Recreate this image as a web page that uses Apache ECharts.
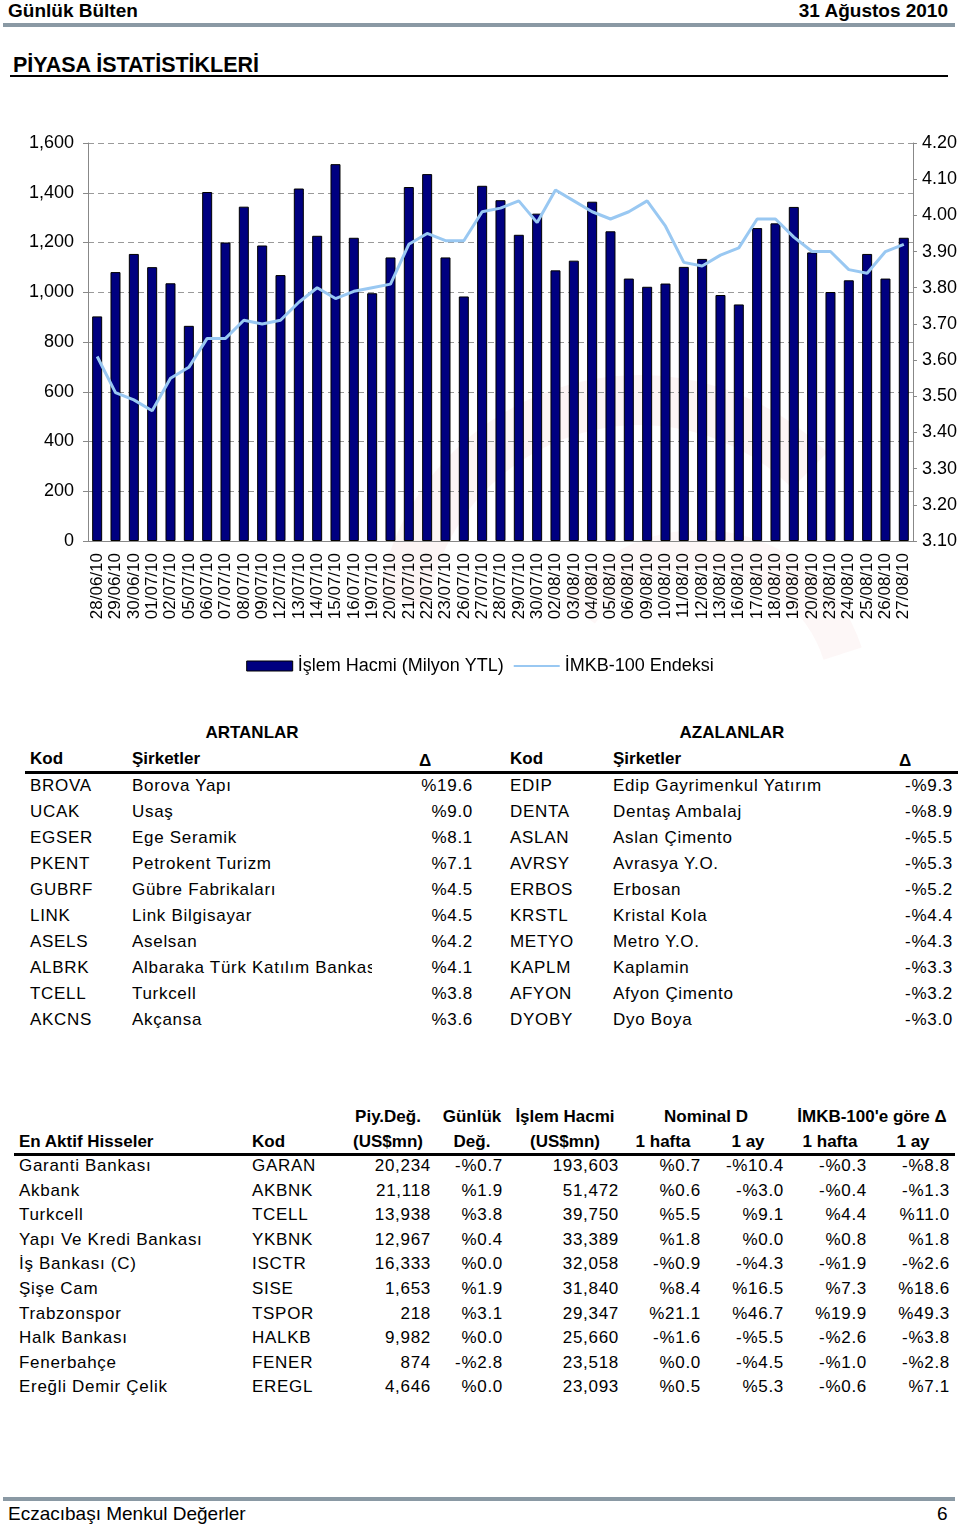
<!DOCTYPE html>
<html>
<head>
<meta charset="utf-8">
<script src="https://cdn.jsdelivr.net/npm/echarts@6/dist/echarts.min.js"></script>
<style>
    html, body { margin: 0; padding: 0; background: #fff; }
    body { width: 960px; height: 1526px; position: relative; overflow: hidden;
           font-family: "Liberation Sans", Arial, sans-serif; color: #000; }
    .abs { position: absolute; white-space: nowrap; }
    .narrow { font-family: "Liberation Sans Narrow", "Arial Narrow", "Liberation Sans", sans-serif; font-weight: bold; }
    #chart { position: absolute; left: 0; top: 0; width: 960px; height: 720px; }
    .t { position: absolute; white-space: nowrap; font-size: 17px; letter-spacing: 0.7px; line-height: 20px; }
    .b { font-weight: bold; letter-spacing: 0; }
    .r { text-align: right; }
    .c { text-align: center; }
    .rule { position: absolute; background: #000; }
</style>
</head>
<body>
<div class="abs narrow" style="left:8px;top:0px;font-size:19px;">Günlük Bülten</div>
<div class="abs narrow" style="right:12px;top:0px;font-size:19px;">31 Ağustos 2010</div>
<div class="abs" style="left:3px;top:23px;width:952px;height:4px;background:#8a99a4;"></div>
<div class="abs narrow" style="left:13px;top:53px;font-size:21.5px;">PİYASA İSTATİSTİKLERİ</div>
<div class="rule" style="left:10px;top:75px;width:938px;height:2px;"></div>

<div id="chart"></div>
<div id="tables"></div>

<div class="abs" style="left:3px;top:1497px;width:952px;height:4px;background:#8a99a4;"></div>
<div class="abs" style="left:8px;top:1503px;font-size:19px;">Eczacıbaşı Menkul Değerler</div>
<div class="abs" style="left:937px;top:1503px;font-size:19px;">6</div>

<script>
    // tarih ekseni
    var dates = ['28/06/10', '29/06/10', '30/06/10', '01/07/10', '02/07/10', '05/07/10', '06/07/10', '07/07/10',
        '08/07/10', '09/07/10', '12/07/10', '13/07/10', '14/07/10', '15/07/10', '16/07/10', '19/07/10',
        '20/07/10', '21/07/10', '22/07/10', '23/07/10', '26/07/10', '27/07/10', '28/07/10', '29/07/10',
        '30/07/10', '02/08/10', '03/08/10', '04/08/10', '05/08/10', '06/08/10', '09/08/10', '10/08/10',
        '11/08/10', '12/08/10', '13/08/10', '16/08/10', '17/08/10', '18/08/10', '19/08/10', '20/08/10',
        '23/08/10', '24/08/10', '25/08/10', '26/08/10', '27/08/10'];
    // işlem hacmi (milyon YTL)
    var hacim = [903, 1081, 1154, 1101, 1036, 865, 1403, 1200, 1344, 1188, 1069, 1417, 1227, 1515,
        1219, 996, 1140, 1423, 1475, 1140, 983, 1428, 1370, 1231, 1316, 1088, 1127, 1364, 1245, 1055,
        1022, 1035, 1102, 1134, 989, 951, 1258, 1277, 1343, 1160, 1001, 1048, 1154, 1055, 1219];
    // IMKB-100 endeksi (sağ eksen)
    var endeks = [3.61, 3.51, 3.49, 3.46, 3.55, 3.58, 3.66, 3.66, 3.71, 3.70, 3.71, 3.76, 3.80, 3.77,
        3.79, 3.80, 3.81, 3.92, 3.95, 3.93, 3.93, 4.01, 4.02, 4.04, 3.98, 4.07, 4.04, 4.01, 3.99, 4.01,
        4.04, 3.97, 3.87, 3.86, 3.89, 3.91, 3.99, 3.99, 3.94, 3.90, 3.90, 3.85, 3.84, 3.90, 3.92];

    // ARTANLAR / AZALANLAR
    var artanKod = ['BROVA', 'UCAK', 'EGSER', 'PKENT', 'GUBRF', 'LINK', 'ASELS', 'ALBRK', 'TCELL', 'AKCNS'];
    var artanAd = ['Borova Yapı', 'Usaş', 'Ege Seramik', 'Petrokent Turizm', 'Gübre Fabrikaları', 'Link Bilgisayar',
        'Aselsan', 'Albaraka Türk Katılım Bankası', 'Turkcell', 'Akçansa'];
    var artanDelta = ['%19.6', '%9.0', '%8.1', '%7.1', '%4.5', '%4.5', '%4.2', '%4.1', '%3.8', '%3.6'];
    var azalanKod = ['EDIP', 'DENTA', 'ASLAN', 'AVRSY', 'ERBOS', 'KRSTL', 'METYO', 'KAPLM', 'AFYON', 'DYOBY'];
    var azalanAd = ['Edip Gayrimenkul Yatırım', 'Dentaş Ambalaj', 'Aslan Çimento', 'Avrasya Y.O.', 'Erbosan',
        'Kristal Kola', 'Metro Y.O.', 'Kaplamin', 'Afyon Çimento', 'Dyo Boya'];
    var azalanDelta = ['-%9.3', '-%8.9', '-%5.5', '-%5.3', '-%5.2', '-%4.4', '-%4.3', '-%3.3', '-%3.2', '-%3.0'];

    // En aktif hisseler
    var aktifAd = ['Garanti Bankası', 'Akbank', 'Turkcell', 'Yapı Ve Kredi Bankası', 'İş Bankası (C)', 'Şişe Cam',
        'Trabzonspor', 'Halk Bankası', 'Fenerbahçe', 'Ereğli Demir Çelik'];
    var aktifKod = ['GARAN', 'AKBNK', 'TCELL', 'YKBNK', 'ISCTR', 'SISE', 'TSPOR', 'HALKB', 'FENER', 'EREGL'];
    var piyDeg = ['20,234', '21,118', '13,938', '12,967', '16,333', '1,653', '218', '9,982', '874', '4,646'];
    var gunlukDeg = ['-%0.7', '%1.9', '%3.8', '%0.4', '%0.0', '%1.9', '%3.1', '%0.0', '-%2.8', '%0.0'];
    var islemHacmi = ['193,603', '51,472', '39,750', '33,389', '32,058', '31,840', '29,347', '25,660', '23,518', '23,093'];
    var nomHafta = ['%0.7', '%0.6', '%5.5', '%1.8', '-%0.9', '%8.4', '%21.1', '-%1.6', '%0.0', '%0.5'];
    var nomAy = ['-%10.4', '-%3.0', '%9.1', '%0.0', '-%4.3', '%16.5', '%46.7', '-%5.5', '-%4.5', '%5.3'];
    var relHafta = ['-%0.3', '-%0.4', '%4.4', '%0.8', '-%1.9', '%7.3', '%19.9', '-%2.6', '-%1.0', '-%0.6'];
    var relAy = ['-%8.8', '-%1.3', '%11.0', '%1.8', '-%2.6', '%18.6', '%49.3', '-%3.8', '-%2.8', '%7.1'];

    var font = '"Liberation Sans", Arial, sans-serif';

    var chart = echarts.init(document.getElementById('chart'));
    var option = {
        animation: false,
        textStyle: {fontFamily: font},
        // soluk logo izi (arka plan)
        graphic: [
            {type: 'arc', z: -10, shape: {cx: 640, cy: 640, r: 240, startAngle: Math.PI * 1.05, endAngle: Math.PI * 1.75},
                style: {stroke: 'rgba(205,70,60,0.06)', lineWidth: 50, fill: null}},
            {type: 'arc', z: -10, shape: {cx: 700, cy: 700, r: 150, startAngle: Math.PI * 1.2, endAngle: Math.PI * 1.9},
                style: {stroke: 'rgba(205,70,60,0.045)', lineWidth: 40, fill: null}}
        ],
        grid: {left: 88, right: 45, top: 143, bottom: 179},
        legend: {
            top: 652,
            left: 'center',
            itemGap: 10,
            itemWidth: 46,
            itemHeight: 10,
            textStyle: {fontSize: 18, color: '#000', fontFamily: font},
            data: [
                {name: 'İşlem Hacmi (Milyon YTL)', icon: 'rect', itemStyle: {color: '#000080', borderColor: '#000', borderWidth: 1}},
                {name: 'İMKB-100 Endeksi', icon: 'path://M0,4 L46,4 L46,6 L0,6 Z', itemStyle: {color: '#99c8f2'}}
            ]
        },
        xAxis: {
            type: 'category',
            data: dates,
            axisLine: {lineStyle: {color: '#888'}},
            axisTick: {length: 5, lineStyle: {color: '#888'}},
            axisLabel: {rotate: 90, interval: 0, fontSize: 17, color: '#000', margin: 12}
        },
        yAxis: [
            {
                type: 'value', min: 0, max: 1600, interval: 200,
                axisLine: {show: true, lineStyle: {color: '#888'}},
                axisTick: {show: true, length: 5, lineStyle: {color: '#888'}},
                axisLabel: {fontSize: 18, color: '#000', margin: 14, formatter: function (v) {
                    return v.toLocaleString('en-US');
                }},
                splitLine: {lineStyle: {color: '#9a9a9a', type: [6, 4]}}
            },
            {
                type: 'value', min: 3.1, max: 4.2, interval: 0.1,
                axisLine: {show: true, lineStyle: {color: '#888'}},
                axisTick: {show: true, length: 4, lineStyle: {color: '#888'}},
                axisLabel: {fontSize: 18, color: '#000', margin: 9, formatter: function (v) {
                    return v.toFixed(2);
                }},
                splitLine: {show: false}
            }
        ],
        series: [
            {
                name: 'İşlem Hacmi (Milyon YTL)',
                type: 'bar',
                data: hacim,
                barWidth: 10,
                itemStyle: {color: '#000080', borderColor: '#000', borderWidth: 1}
            },
            {
                name: 'İMKB-100 Endeksi',
                type: 'line',
                yAxisIndex: 1,
                data: endeks,
                symbol: 'none',
                lineStyle: {color: '#99c8f2', width: 3}
            }
        ]
    };
    chart.setOption(option);

    // tablolar
    var html = '';
    function cell(cls, left, top, text, width) {
        var style = 'left:' + left + 'px;top:' + top + 'px;';
        if (width) style += 'width:' + width + 'px;overflow:hidden;';
        return '<div class="t ' + cls + '" style="' + style + '">' + text + '</div>';
    }
    function right(cls, rightEdge, top, text) {
        return '<div class="t r ' + cls + '" style="left:' + (rightEdge - 200) + 'px;width:200px;top:' + top + 'px;">' + text + '</div>';
    }
    function center(cls, mid, top, text) {
        return '<div class="t c ' + cls + '" style="left:' + (mid - 120) + 'px;width:240px;top:' + top + 'px;">' + text + '</div>';
    }

    html += center('b', 252, 723, 'ARTANLAR');
    html += center('b', 732, 723, 'AZALANLAR');
    html += cell('b', 30, 749, 'Kod') + cell('b', 132, 749, 'Şirketler') + cell('b', 419, 751, 'Δ');
    html += cell('b', 510, 749, 'Kod') + cell('b', 613, 749, 'Şirketler') + cell('b', 899, 751, 'Δ');
    html += '<div class="rule" style="left:25px;top:771px;width:933px;height:3px;"></div>';
    for (var i = 0; i < artanKod.length; i++) {
        var y = 776 + i * 26;
        html += cell('', 30, y, artanKod[i]) + cell('', 132, y, artanAd[i], 240) + right('', 473, y, artanDelta[i]);
        html += cell('', 510, y, azalanKod[i]) + cell('', 613, y, azalanAd[i]) + right('', 953, y, azalanDelta[i]);
    }

    var h1 = 1107, h2 = 1132;
    html += center('b', 388, h1, 'Piy.Değ.') + center('b', 388, h2, '(US$mn)');
    html += center('b', 472, h1, 'Günlük') + center('b', 472, h2, 'Değ.');
    html += center('b', 565, h1, 'İşlem Hacmi') + center('b', 565, h2, '(US$mn)');
    html += center('b', 706, h1, 'Nominal D') + center('b', 663, h2, '1 hafta') + center('b', 748, h2, '1 ay');
    html += center('b', 872, h1, 'İMKB-100\'e göre Δ') + center('b', 830, h2, '1 hafta') + center('b', 913, h2, '1 ay');
    html += cell('b', 19, h2, 'En Aktif Hisseler') + cell('b', 252, h2, 'Kod');
    html += '<div class="rule" style="left:14px;top:1153px;width:941px;height:3px;"></div>';
    for (var j = 0; j < aktifAd.length; j++) {
        var yy = 1156 + j * 24.6;
        html += cell('', 19, yy, aktifAd[j]) + cell('', 252, yy, aktifKod[j]);
        html += right('', 431, yy, piyDeg[j]) + right('', 503, yy, gunlukDeg[j]) + right('', 619, yy, islemHacmi[j]);
        html += right('', 701, yy, nomHafta[j]) + right('', 784, yy, nomAy[j]);
        html += right('', 867, yy, relHafta[j]) + right('', 950, yy, relAy[j]);
    }
    document.getElementById('tables').innerHTML = html;
</script>
</body>
</html>
